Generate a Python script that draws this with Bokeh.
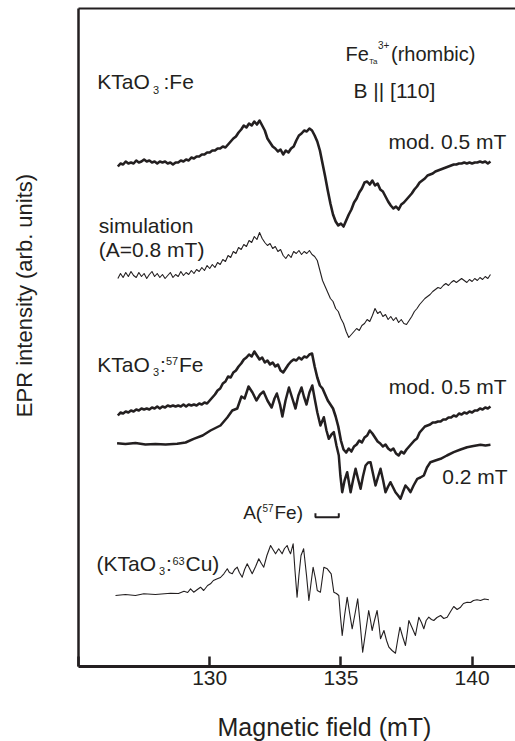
import math
from bokeh.plotting import figure
from bokeh.models import Range1d, FixedTicker, LinearAxis, Label
from bokeh.layouts import row, column
from bokeh.embed import file_html
from bokeh.resources import INLINE

# ---------------- data (field in mT, intensity in arbitrary units) ----------------
field = [126.5, 126.6, 126.7, 126.8, 126.9,
         127.0, 127.1, 127.2, 127.3, 127.4, 127.5, 127.6, 127.7, 127.8, 127.9,
         128.0, 128.1, 128.2, 128.3, 128.4, 128.5, 128.6, 128.7, 128.8, 128.9,
         129.0, 129.1, 129.2, 129.3, 129.4, 129.5, 129.6, 129.7, 129.8, 129.9,
         130.0, 130.1, 130.2, 130.3, 130.4, 130.5, 130.6, 130.7, 130.8, 130.9,
         131.0, 131.1, 131.2, 131.3, 131.4, 131.5, 131.6, 131.7, 131.8, 131.9,
         132.0, 132.1, 132.2, 132.3, 132.4, 132.5, 132.6, 132.7, 132.8, 132.9,
         133.0, 133.1, 133.2, 133.3, 133.4, 133.5, 133.6, 133.7, 133.8, 133.9,
         134.0, 134.1, 134.2, 134.3, 134.4, 134.5, 134.6, 134.7, 134.8, 134.9,
         135.0, 135.1, 135.2, 135.3, 135.4, 135.5, 135.6, 135.7, 135.8, 135.9,
         136.0, 136.1, 136.2, 136.3, 136.4, 136.5, 136.6, 136.7, 136.8, 136.9,
         137.0, 137.1, 137.2, 137.3, 137.4, 137.5, 137.6, 137.7, 137.8, 137.9,
         138.0, 138.1, 138.2, 138.3, 138.4, 138.5, 138.6, 138.7, 138.8, 138.9,
         139.0, 139.1, 139.2, 139.3, 139.4, 139.5, 139.6, 139.7, 139.8, 139.9,
         140.0, 140.1, 140.2, 140.3, 140.4, 140.5, 140.6, 140.7]

# KTaO3:Fe, modulation 0.5 mT
fe_mod05 = [500, 503, 502, 505, 503,
            504, 503, 506, 504, 505, 507, 505, 506, 504, 505,
            503, 505, 504, 505, 503, 504, 502, 504, 504, 506,
            505, 507, 506, 509, 508, 510, 510, 512, 512, 514,
            514, 516, 516, 518, 518, 520, 519, 522, 525, 528,
            530, 534, 537, 541, 539, 543, 541, 545, 542, 546,
            541, 536, 528, 524, 520, 518, 515, 517, 512, 516,
            514, 518, 520, 526, 531, 533, 536, 535, 538, 536,
            531, 525, 516, 503, 490, 476, 463, 452, 445, 441,
            443, 440, 446, 452, 457, 464, 468, 474, 478, 484,
            485, 482, 486, 481, 483, 477, 475, 470, 465, 461,
            458, 460, 457, 462, 464, 467, 470, 473, 477, 480,
            484, 486, 488, 491, 492, 493, 495, 496, 497, 498,
            499, 500, 501, 502, 502, 503, 503, 504, 503, 504,
            503, 504, 504, 505, 504, 505, 503, 505]

# simulation (A = 0.8 mT)
simulation = [388, 393, 389, 394, 390,
              395, 391, 389, 394, 390, 393, 388, 392, 395, 390,
              393, 389, 392, 388, 391, 394, 389, 392, 390, 395,
              391, 394, 392, 396, 393, 397, 395, 399, 396, 401,
              398, 402, 399, 404, 402, 407, 405, 411, 409, 415,
              413, 419, 417, 422, 420, 426, 424, 430, 427, 434,
              428, 424, 421, 423, 418, 420, 415, 417, 411, 408,
              412, 409, 415, 413, 416, 412, 415, 413, 416, 412,
              410, 406, 396, 386, 380, 374, 368, 365, 358, 355,
              348, 343, 335, 329, 332, 335, 338, 336, 341, 343,
              347, 345, 351, 358, 353, 355, 350, 352, 347, 350,
              346, 349, 344, 347, 343, 342, 346, 350, 355, 358,
              362, 365, 368, 370, 372, 375, 377, 379, 378, 381,
              383, 381, 384, 386, 384, 386, 388, 386, 384, 387,
              385, 388, 386, 389, 387, 390, 388, 392]

# KTaO3:57Fe, modulation 0.5 mT
fe57_mod05 = [251, 254, 253, 255, 254,
              256, 255, 257, 256, 258, 257, 258, 257, 259, 258,
              260, 258, 260, 259, 261, 260, 261, 260, 261, 260,
              262, 260, 262, 261, 262, 261, 263, 262, 264, 263,
              266, 269, 272, 276, 278, 283, 285, 290, 289, 294,
              296, 300, 303, 307, 309, 312, 310, 315, 311, 307,
              309, 304, 306, 302, 304, 300, 302, 296, 294, 298,
              302, 305, 307, 306, 309, 307, 310, 309, 312, 313,
              300, 289, 281, 278, 272, 266, 262, 258, 250, 240,
              226, 217, 214, 218, 215, 220, 222, 226, 224, 229,
              231, 236, 233, 229, 225, 223, 220, 222, 218, 216,
              218, 213, 211, 215, 213, 217, 220, 223, 226, 228,
              234, 237, 240, 241, 242, 244, 244, 245, 245, 247,
              247, 249, 249, 251, 250, 253, 252, 254, 253, 255,
              254, 256, 256, 258, 257, 259, 258, 260]

# KTaO3:57Fe, modulation 0.2 mT
field_fe57_mod02 = [126.47, 126.79, 127.17, 127.55, 127.93, 128.32, 128.76, 129.08, 129.39, 129.73,
                    130.03, 130.41, 130.67, 130.86, 131.05, 131.21, 131.33, 131.48, 131.63, 131.78,
                    131.92, 132.05, 132.20, 132.36, 132.47, 132.56, 132.68, 132.77, 132.89, 133.02,
                    133.15, 133.27, 133.38, 133.50, 133.59, 133.69, 133.80, 133.91, 134.00, 134.10,
                    134.22, 134.35, 134.45, 134.54, 134.64, 134.73, 134.83, 134.92, 134.98, 135.05,
                    135.14, 135.24, 135.37, 135.46, 135.56, 135.65, 135.75, 135.84, 135.94, 136.04,
                    136.13, 136.23, 136.32, 136.42, 136.51, 136.61, 136.70, 136.80, 136.89, 136.99,
                    137.08, 137.18, 137.27, 137.37, 137.46, 137.56, 137.65, 137.77, 137.91, 138.03,
                    138.16, 138.28, 138.41, 138.60, 138.80, 139.04, 139.30, 139.56, 139.81, 140.05,
                    140.32, 140.51, 140.70]
fe57_mod02 = [223.3, 222.5, 223.5, 222, 222.5, 222, 222.7, 224, 227.7, 231,
              236, 241, 249, 256, 258, 270, 268, 280, 274, 266,
              272, 275, 266, 259, 268, 273, 262, 250, 266, 279,
              268, 258, 271, 279, 270, 262, 274, 281, 268, 254.3,
              241, 249.3, 236, 227.7, 232, 234.3, 221, 211, 191, 174.3,
              186, 194.3, 174.3, 186, 197.7, 188, 177.7, 190, 201, 204,
              204.3, 192, 181, 190, 197.7, 186, 174.3, 180, 184.3, 179,
              174.3, 171, 167.7, 175, 181, 178, 174.3, 181, 187.7, 189,
              191, 199, 204.3, 206, 207.7, 211, 214.3, 217, 219.3, 220.5,
              221.7, 221, 221.7]

# (KTaO3:63Cu)
field_cu63 = [126.41, 126.79, 127.17, 127.49, 127.93, 128.51, 128.81, 129.02, 129.16, 129.27,
              129.39, 129.53, 129.65, 129.77, 129.92, 130.03, 130.14, 130.29, 130.41, 130.54,
              130.67, 130.75, 130.86, 130.95, 131.05, 131.13, 131.24, 131.33, 131.43, 131.52,
              131.62, 131.75, 131.87, 131.97, 132.06, 132.18, 132.32, 132.41, 132.51, 132.63,
              132.76, 132.85, 132.95, 133.02, 133.08, 133.18, 133.25, 133.33, 133.40, 133.48,
              133.58, 133.69, 133.78, 133.86, 133.94, 134.03, 134.10, 134.22, 134.35, 134.48,
              134.63, 134.73, 134.83, 134.92, 134.98, 135.05, 135.14, 135.24, 135.33, 135.43,
              135.54, 135.64, 135.74, 135.83, 135.95, 136.06, 136.13, 136.19, 136.28, 136.38,
              136.45, 136.51, 136.64, 136.74, 136.83, 136.95, 137.08, 137.16, 137.25, 137.35,
              137.46, 137.53, 137.59, 137.71, 137.84, 137.97, 138.07, 138.16, 138.25, 138.35,
              138.45, 138.54, 138.66, 138.80, 138.92, 139.05, 139.18, 139.30, 139.43, 139.56,
              139.67, 139.81, 139.94, 140.05, 140.19, 140.32, 140.47, 140.64]
cu63 = [71, 72, 71, 72.7, 72, 73.3, 73, 75.3, 74, 77.7,
        74.3, 77, 79.3, 76, 81, 82.7, 86, 87.7, 89, 92.7,
        97.7, 94, 92.7, 97, 99.3, 94, 89.3, 97, 102.7, 98,
        92.7, 100, 107.7, 103, 99.3, 111, 121, 117, 112.7, 117.7,
        112.7, 118, 121, 116, 112.7, 122.7, 96, 69.3, 91, 111,
        117.7, 91, 66, 83, 99.3, 88, 76, 74.3, 99.3, 97.7,
        92.7, 74.3, 73, 71, 51, 31, 51, 69.3, 54, 37.7,
        53, 67.7, 41, 14.3, 36, 56, 46, 36, 46, 56,
        42, 27.7, 36, 26, 19.3, 16, 13.3, 26, 39.3, 30,
        21, 34, 46, 39, 31, 49.3, 44, 37.7, 46, 49.3,
        47, 46, 49, 51, 48, 49.3, 55, 60, 57, 59.3,
        63, 64.3, 64, 66, 66.7, 66, 67.5, 66.7]

# A(57Fe) hyperfine bracket
a57_bracket_field = [134.03, 134.92]
a57_bracket_level = [153.3, 149.3]

x_ticks = [125, 130, 135, 140]

# ---------------- layout (page pixels) ----------------
LEFT_STRIP_W = 40          # strip holding the vertical axis title
PAGE_W, PAGE_H = 515, 741
MAIN_H = 700               # main plot height; the x-axis title strip sits below it
X0, X1 = 125.0, 141.654
FRAME_LEFT, PX_PER_MT, FRAME_BOTTOM = 78.0, 26.24, 666.0
FONT = "Liberation Sans"
INK = "#231f20"
BASE_SHIFT = 0.34          # baseline correction, fraction of font size
INNER_LEFT = int(FRAME_LEFT) - LEFT_STRIP_W


def X(px):
    return X0 + (px - FRAME_LEFT) / PX_PER_MT


def Y(py):
    return FRAME_BOTTOM - py


def clean(fig):
    fig.background_fill_color = "white"
    fig.border_fill_color = "white"
    fig.outline_line_color = None
    fig.grid.visible = False


p = figure(width=PAGE_W - LEFT_STRIP_W, height=MAIN_H, x_range=Range1d(X0, X1), y_range=Range1d(0, 658),
           output_backend="svg", toolbar_location=None,
           min_border_left=INNER_LEFT, min_border_right=0,
           min_border_top=8, min_border_bottom=MAIN_H - 8 - 658)
clean(p)

# bottom axis
xa = p.xaxis[0]
xa.ticker = FixedTicker(ticks=x_ticks)
xa.major_label_overrides = {125: ""}
xa.major_tick_in = 10
xa.major_tick_out = 0
xa.major_tick_line_width = 2.5
xa.major_tick_line_color = INK
xa.minor_tick_line_color = None
xa.axis_line_width = 3
xa.axis_line_color = INK
xa.major_label_text_font = FONT
xa.major_label_text_font_size = "21px"
xa.major_label_text_color = INK
xa.major_label_standoff = 4

# left axis (line only)
ya = p.yaxis[0]
ya.ticker = FixedTicker(ticks=[])
ya.major_tick_line_color = None
ya.minor_tick_line_color = None
ya.major_tick_in = 0
ya.major_tick_out = 0
ya.major_label_standoff = 0
ya.major_label_text_font_size = "0px"
ya.axis_line_width = 2.5
ya.axis_line_color = INK

# top border line
top = LinearAxis(ticker=FixedTicker(ticks=[]), major_tick_line_color=None,
                 minor_tick_line_color=None, major_tick_in=0, major_tick_out=0,
                 major_label_text_font_size="0px",
                 major_label_standoff=0, axis_line_width=2, axis_line_color=INK)
p.add_layout(top, "above")

# spectra
p.line(field, fe_mod05, line_width=2.6, color=INK, line_join="round")
p.line(field, simulation, line_width=1.1, color=INK, line_join="round")
p.line(field, fe57_mod05, line_width=2.6, color=INK, line_join="round")
p.line(field_fe57_mod02, fe57_mod02, line_width=2.5, color=INK, line_join="round")
p.line(field_cu63, cu63, line_width=1.1, color=INK, line_join="round")

# hyperfine bracket
b0, b1 = a57_bracket_field
hi, lo = a57_bracket_level
p.line([b0, b0, b1, b1], [hi, lo, lo, hi], line_width=2, color=INK)

# text annotations: (text, left px, baseline px, font px)
pieces = [
    ("KTaO", 96.7, 88.3, 21), ("3", 152.5, 93.0, 11), (":Fe", 163.0, 88.3, 21),
    ("Fe", 345, 60, 20), ("Ta", 368.5, 63.5, 8), ("3+", 377.5, 47.5, 10), ("(rhombic)", 390.5, 60, 20),
    ("B || [110]", 353, 96.7, 21),
    ("mod. 0.5 mT", 388, 148.3, 21),
    ("simulation", 98.3, 231.7, 21), ("(A=0.8 mT)", 98.3, 256.5, 21),
    ("KTaO", 96.7, 370.7, 21), ("3", 152.5, 375, 11), (":", 159.5, 370.7, 21), ("57", 165.5, 364, 11),
    ("Fe", 178.5, 370.7, 21),
    ("mod. 0.5 mT", 388.3, 393.3, 21),
    ("0.2 mT", 441.7, 483.3, 21),
    ("A(", 242.7, 518.3, 19), ("57", 262.0, 511, 10), ("Fe)", 274.0, 518.3, 19),
    ("(KTaO", 96, 570, 21), ("3", 158.5, 574, 11), (":", 165.5, 570, 21), ("63", 172.0, 564, 11),
    ("Cu)", 185.0, 570, 21),
]
for txt, px, py, size in pieces:
    p.add_layout(Label(x=X(px), y=Y(py - BASE_SHIFT * size), text=txt, text_font=FONT,
                       text_font_size=f"{size}px", text_color=INK,
                       text_align="left", text_baseline="alphabetic"))

# x-axis title strip (below the main plot); its frame lines up with the main frame,
# so its x range is expressed in page pixels from FRAME_LEFT to PAGE_W
STRIP_H = PAGE_H - MAIN_H
pb = figure(width=PAGE_W - LEFT_STRIP_W, height=STRIP_H,
            x_range=Range1d(FRAME_LEFT, PAGE_W), y_range=Range1d(0, STRIP_H),
            x_axis_location=None, y_axis_location=None, min_border=0,
            min_border_left=INNER_LEFT, min_border_right=0,
            output_backend="svg", toolbar_location=None)
clean(pb)
pb.add_layout(Label(x=217, y=STRIP_H - (735 - BASE_SHIFT * 25 - MAIN_H),
                    text="Magnetic field (mT)", text_font=FONT, text_font_size="25px",
                    text_color=INK, text_align="left", text_baseline="alphabetic"))

# y-axis title strip (left of everything)
pl = figure(width=LEFT_STRIP_W, height=PAGE_H,
            x_range=Range1d(0, LEFT_STRIP_W), y_range=Range1d(0, PAGE_H),
            x_axis_location=None, y_axis_location=None, min_border=0,
            output_backend="svg", toolbar_location=None)
clean(pl)
pl.add_layout(Label(x=31.7 - BASE_SHIFT * 22, y=PAGE_H - 295,
                    text="EPR intensity (arb. units)", text_font=FONT, text_font_size="22px",
                    text_color=INK, text_align="center", text_baseline="alphabetic",
                    angle=math.pi / 2))

layout = row(pl, column(p, pb))
open("out.html", "w").write(file_html(layout, INLINE))
